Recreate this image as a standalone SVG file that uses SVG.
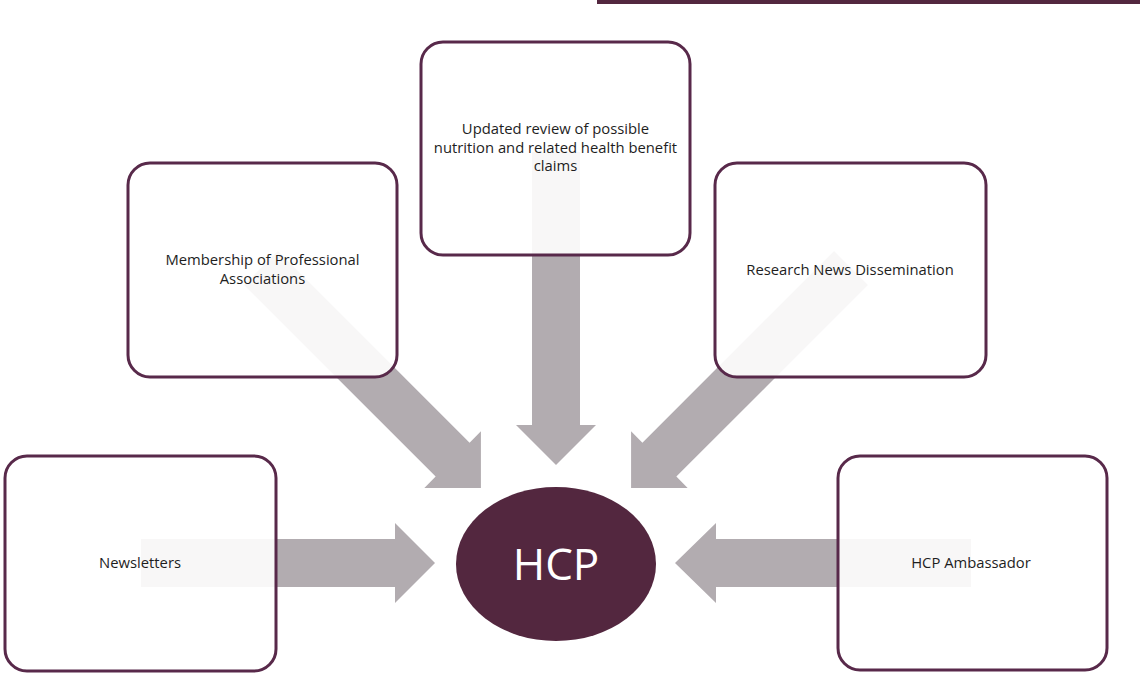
<svg xmlns="http://www.w3.org/2000/svg" width="1140" height="692" viewBox="0 0 1140 692">
<defs>
<style>
.box{fill:#ffffff;fill-opacity:0.9;stroke:#58294a;stroke-width:3}
.arrow{fill:#b2acb0}
.lbl{font-family:"Open Sans","Liberation Sans",sans-serif;font-size:14.8px;fill:#1e1e1e;text-anchor:middle}
.hcp{font-family:"Open Sans","Liberation Sans",sans-serif;font-size:44px;fill:#ffffff;text-anchor:middle}
</style>
<polygon id="diag" points="0,-24 271,-24 271,-40 311,0 271,40 271,24 0,24"/>
</defs>
<rect x="597" y="0" width="543" height="4" fill="#53273f"/>
<g id="connectors">
<polygon class="arrow" points="141,539 395,539 395,523 435,563 395,603 395,587 141,587"/>
<polygon class="arrow" points="971,539 716,539 716,523 675,563 716,603 716,587 971,587"/>
<polygon class="arrow" points="532,152 580,152 580,425 596,425 556,465 516,425 532,425"/>
<use href="#diag" class="arrow" transform="translate(261,268) rotate(45)"/>
<use href="#diag" class="arrow" transform="translate(851,268) rotate(135)"/>
</g>
<g id="node-review">
<rect class="box" x="421" y="42" width="269" height="213" rx="22"/>
<text class="lbl" x="555.5" y="134">Updated review of possible</text>
<text class="lbl" x="555.5" y="152.5">nutrition and related health benefit</text>
<text class="lbl" x="555.5" y="171">claims</text>
</g>
<g id="node-membership">
<rect class="box" x="128" y="163" width="269" height="214" rx="22"/>
<text class="lbl" x="262.5" y="265">Membership of Professional</text>
<text class="lbl" x="262.5" y="284">Associations</text>
</g>
<g id="node-research">
<rect class="box" x="715" y="163" width="271" height="214" rx="22"/>
<text class="lbl" x="850" y="275">Research News Dissemination</text>
</g>
<g id="node-newsletters">
<rect class="box" x="5" y="456" width="271" height="215" rx="22"/>
<text class="lbl" x="140" y="568">Newsletters</text>
</g>
<g id="node-ambassador">
<rect class="box" x="838" y="456" width="269" height="214" rx="22"/>
<text class="lbl" x="971" y="568">HCP Ambassador</text>
</g>
<g id="node-hcp">
<ellipse cx="556" cy="564" rx="100" ry="77" fill="#53273f"/>
<text class="hcp" x="556" y="580">HCP</text>
</g>
</svg>
